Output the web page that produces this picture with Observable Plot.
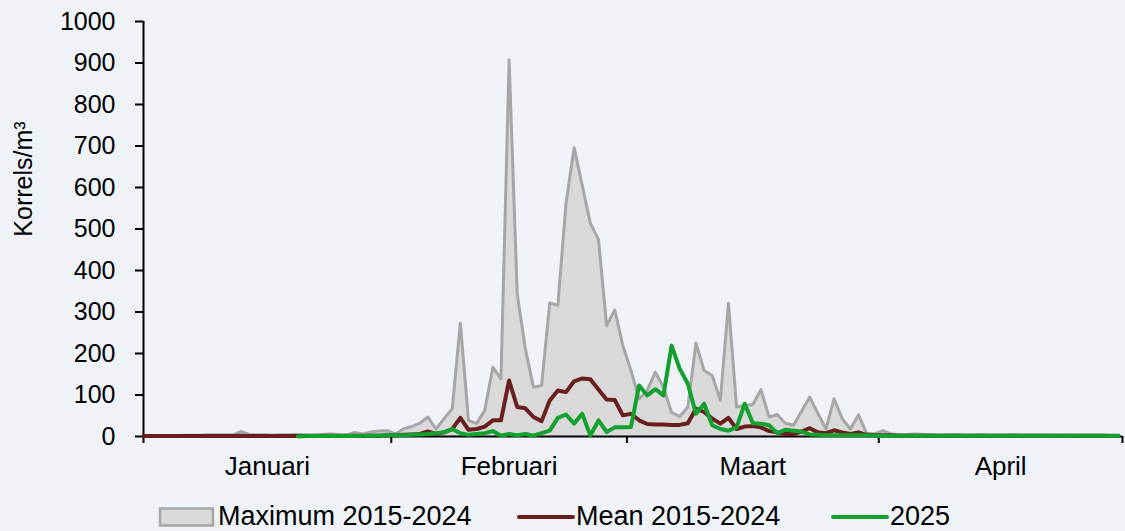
<!DOCTYPE html>
<html><head><meta charset="utf-8">
<script src="https://cdn.jsdelivr.net/npm/d3@7"></script>
<script src="https://cdn.jsdelivr.net/npm/@observablehq/plot@0.6"></script>
<style>
html,body{margin:0;padding:0;background:#EFF3F8;}
#chart svg{display:block;}
</style></head><body><div id="chart"></div>
<script>
// Months on the x axis (leap-year day count, Jan 1 = day 0)
const months = ["Januari", "Februari", "Maart", "April"];
const monthDays = [31, 29, 31, 30];
const yTicks = [0, 100, 200, 300, 400, 500, 600, 700, 800, 900, 1000];
const yLabel = "Korrels/m³";
const seriesNames = ["Maximum 2015-2024", "Mean 2015-2024", "2025"];

// Daily maximum 2015-2024 (Jan 1 .. Apr 30)
const maxValues = [
  2,2,2,2,2,3,3,3,4,4,
  4,4,12,5,4,4,3,4,4,5,
  4,4,5,6,5,4,10,6,11,13,
  14,6,18,24,32,47,18,43,67,273,
  39,31,63,167,139,908,344,211,119,123,
  322,316,561,696,605,514,475,267,305,219,
  159,91,111,155,119,58,48,71,225,159,
  147,87,321,71,75,77,113,47,53,32,
  27,61,95,56,18,91,43,18,52,8,
  6,14,6,4,5,6,5,4,3,4,
  4,3,3,4,3,3,3,4,3,3,
  3,3,2,2,3,2,2,2,2,2,2
];
// Daily mean 2015-2024
const meanValues = [
  1,1,1,1,1,1,1,1,1,1,
  1,1,2,1,1,1,1,1,1,1,
  1,1,1,2,1,1,2,1,2,2,
  3,3,4,5,6,12,6,10,18,45,
  16,18,24,39,39,135,71,68,47,37,
  87,111,107,133,140,138,113,89,88,51,
  55,39,30,29,29,28,28,32,67,59,
  43,31,45,18,24,25,22,13,10,6,
  6,12,20,10,8,15,10,6,10,4,
  3,3,3,2,2,2,2,2,2,2,
  2,2,2,2,2,2,2,2,2,2,
  2,2,2,2,2,2,2,2,2,2,2
];
// 2025, measured from January 20 (day 19)
const start2025 = 19;
const values2025 = [
  0,1,1,2,1,1,2,1,2,2,2,
  3,3,3,4,5,6,8,10,18,8,
  4,6,8,13,2,6,3,6,2,8,
  14,45,53,31,55,2,39,11,22,22,
  23,123,99,114,99,219,163,127,55,79,
  27,18,14,22,79,32,31,27,8,16,
  14,12,5,4,3,3,3,3,3,3,
  2,2,2,2,2,2,2,2,2,2,
  2,2,2,2,2,2,2,2,2,2,
  2,2,2,2,2,2,2,2,2,1,1
];

const colMax = "#A6A6A6", colFill = "#D9D9D9", colMean = "#6A1F1F", col2025 = "#12A02F";

const maxData = maxValues.map((v, i) => ({day: i, v}));
const meanData = meanValues.map((v, i) => ({day: i, v}));
const data2025 = values2025.map((v, i) => ({day: start2025 + i, v}));

// month boundaries (category edges sit half a day before each month's first point)
const cum = [0];
monthDays.forEach(d => cum.push(cum[cum.length - 1] + d));
const bounds = cum.map((c, i) => i === 0 ? 0 : c - 0.5);
const monthData = months.map((m, i) => ({name: m, mid: (bounds[i] + bounds[i + 1]) / 2}));

const font = "'Liberation Sans', Arial, sans-serif";

const plot = Plot.plot({
  width: 1125, height: 490,
  marginLeft: 143, marginRight: 3, marginTop: 21, marginBottom: 54,
  style: {background: "transparent", fontFamily: font, fontSize: "25px", color: "#000"},
  x: {domain: [0, bounds[bounds.length - 1]], axis: null},
  y: {domain: [0, 1000], axis: null},
  marks: [
    Plot.areaY(maxData, {x: "day", y: "v", fill: colFill}),
    Plot.lineY(maxData, {x: "day", y: "v", stroke: colMax, strokeWidth: 3}),
    Plot.axisY({ticks: yTicks, tickSize: 8, tickPadding: 20, label: null, strokeWidth: 2, fontSize: 25, tickFormat: d => String(d)}),
    Plot.axisX({ticks: bounds, tickSize: 7, label: null, strokeWidth: 2, tickFormat: () => ""}),
    Plot.ruleX([0], {stroke: "#000", strokeWidth: 2}),
    Plot.ruleY([0], {stroke: "#000", strokeWidth: 2}),
    Plot.text(monthData, {x: "mid", text: "name", frameAnchor: "bottom", dy: 38, fontSize: 26, fill: "#000"}),
    Plot.lineY(meanData, {x: "day", y: "v", stroke: colMean, strokeWidth: 4}),
    Plot.lineY(data2025, {x: "day", y: "v", stroke: col2025, strokeWidth: 4})
  ]
});

// y-axis title
d3.select(plot).append("text")
  .attr("transform", "translate(23,179) rotate(-90)")
  .attr("text-anchor", "middle")
  .attr("dominant-baseline", "central")
  .attr("font-family", font)
  .attr("font-size", 25)
  .attr("fill", "#000")
  .text(yLabel);

document.getElementById("chart").appendChild(plot);

// legend below the chart
const leg = d3.select("#chart").append("svg")
  .attr("width", 1125).attr("height", 41)
  .style("display", "block");
const items = [
  {name: seriesNames[0], type: "area", x: 160, tx: 218},
  {name: seriesNames[1], type: "line", color: colMean, x: 519, tx: 576},
  {name: seriesNames[2], type: "line", color: col2025, x: 833, tx: 890}
];
items.forEach(it => {
  if (it.type === "area") {
    leg.append("rect").attr("x", it.x).attr("y", 18.5).attr("width", 53).attr("height", 17)
      .attr("fill", colFill).attr("stroke", colMax).attr("stroke-width", 2.5);
  } else {
    leg.append("line").attr("x1", it.x).attr("x2", it.x + 54).attr("y1", 27).attr("y2", 27)
      .attr("stroke", it.color).attr("stroke-width", 4).attr("stroke-linecap", "round");
  }
  leg.append("text")
    .attr("transform", `translate(${it.tx},35)`)
    .attr("font-family", font).attr("font-size", 27).attr("fill", "#000")
    .text(it.name);
});
</script></body></html>
